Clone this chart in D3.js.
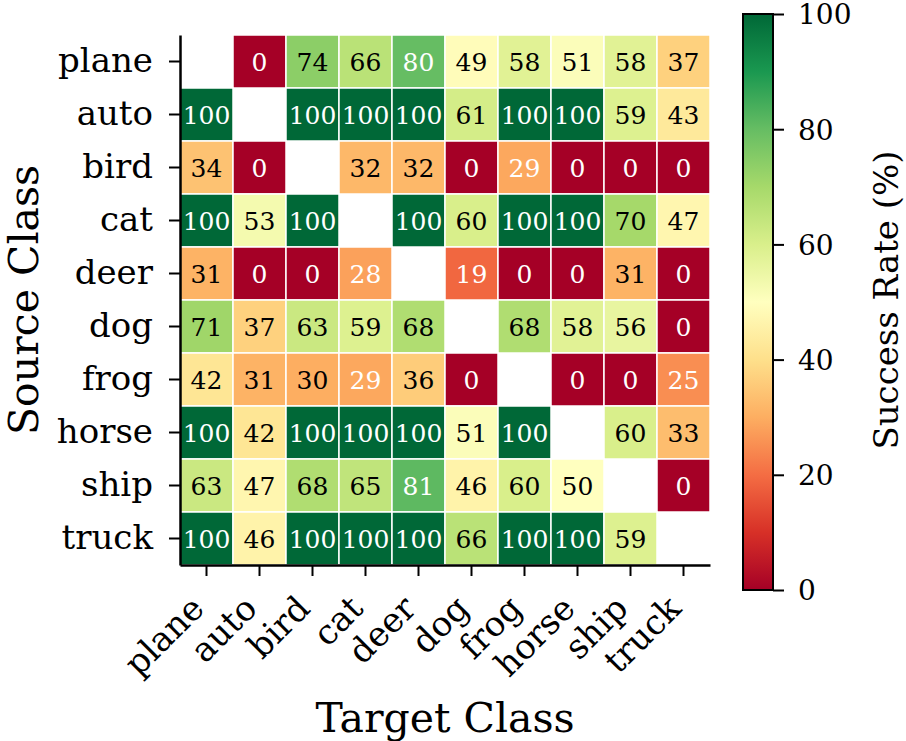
<!DOCTYPE html>
<html>
<head>
<meta charset="utf-8">
<script src="https://cdn.jsdelivr.net/npm/d3@7"></script>
<style>
  body { margin: 0; background: #fff; }
  text { font-family: "DejaVu Serif", serif; fill: #000; }
</style>
</head>
<body>
<script>
const classes = ["plane", "auto", "bird", "cat", "deer", "dog", "frog", "horse", "ship", "truck"];
// rows = source class, columns = target class, null = diagonal (no value)
const plane = [null, 0, 74, 66, 80, 49, 58, 51, 58, 37];
const auto  = [100, null, 100, 100, 100, 61, 100, 100, 59, 43];
const bird  = [34, 0, null, 32, 32, 0, 29, 0, 0, 0];
const cat   = [100, 53, 100, null, 100, 60, 100, 100, 70, 47];
const deer  = [31, 0, 0, 28, null, 19, 0, 0, 31, 0];
const dog   = [71, 37, 63, 59, 68, null, 68, 58, 56, 0];
const frog  = [42, 31, 30, 29, 36, 0, null, 0, 0, 25];
const horse = [100, 42, 100, 100, 100, 51, 100, null, 60, 33];
const ship  = [63, 47, 68, 65, 81, 46, 60, 50, null, 0];
const truck = [100, 46, 100, 100, 100, 66, 100, 100, 59, null];
const rows = [plane, auto, bird, cat, deer, dog, frog, horse, ship, truck];
const cbarTicks = [0, 20, 40, 60, 80, 100];

const width = 906, height = 741;
const marginLeft = 180, marginTop = 35, size = 530;
const cbar = { x: 743, y: 14, w: 30, h: 576 };

const svg = d3.select("body").append("svg")
    .attr("width", width)
    .attr("height", height);

// matplotlib RdYlGn = linear blend of the 11 ColorBrewer stops
const stops = d3.schemeRdYlGn[11];
const color = d3.scaleLinear()
    .domain(stops.map((d, i) => i * 10))
    .range(stops)
    .interpolate(d3.interpolateRgb);

const x = d3.scaleBand().domain(classes).range([marginLeft, marginLeft + size]);
const y = d3.scaleBand().domain(classes).range([marginTop, marginTop + size]);

const cells = [];
rows.forEach((r, i) => r.forEach((v, j) => {
    if (v !== null) cells.push({ src: classes[i], tgt: classes[j], v: v });
}));

const cell = svg.append("g").attr("class", "cells")
    .selectAll("g")
    .data(cells)
    .enter()
    .append("g");

cell.append("rect")
    .attr("x", d => x(d.tgt))
    .attr("y", d => y(d.src))
    .attr("width", x.bandwidth())
    .attr("height", y.bandwidth())
    .attr("fill", d => color(d.v))
    .attr("stroke", "#fff")
    .attr("stroke-width", 1.5);

cell.append("text")
    .attr("x", d => x(d.tgt) + x.bandwidth() / 2)
    .attr("y", d => y(d.src) + y.bandwidth() / 2)
    .attr("dy", "0.36em")
    .attr("text-anchor", "middle")
    .style("font-size", "25px")
    .style("fill", d => (d.v < 30 || d.v >= 80) ? "#fff" : "#000")
    .text(d => d.v);

/* ------- AXES -------*/
const xAxis = svg.append("g")
    .attr("transform", "translate(0," + (marginTop + size) + ")")
    .call(d3.axisBottom(x).tickSize(11).tickSizeOuter(0));
xAxis.selectAll("text")
    .style("font-size", "34px")
    .attr("text-anchor", "end")
    .attr("transform", "translate(-9,37) rotate(-45)")
    .attr("dy", "0.35em")
    .attr("y", 0)
    .attr("x", 0);

const yAxis = svg.append("g")
    .attr("transform", "translate(" + marginLeft + ",0)")
    .call(d3.axisLeft(y).tickSize(11).tickSizeOuter(0).tickPadding(16));
yAxis.selectAll("text").style("font-size", "34px").attr("dy", "0.3em");

svg.selectAll(".domain").attr("stroke", "#000").attr("stroke-width", 2.5);
svg.selectAll(".tick line").attr("stroke", "#000").attr("stroke-width", 2);

svg.append("text")
    .attr("x", marginLeft + size / 2)
    .attr("y", 732)
    .attr("text-anchor", "middle")
    .style("font-size", "41px")
    .text("Target Class");

svg.append("text")
    .attr("transform", "translate(38," + (marginTop + size / 2) + ") rotate(-90)")
    .attr("text-anchor", "middle")
    .style("font-size", "41px")
    .text("Source Class");

/* ------- COLORBAR -------*/
const grad = svg.append("defs").append("linearGradient")
    .attr("id", "cbar-grad")
    .attr("x1", 0).attr("y1", 1).attr("x2", 0).attr("y2", 0);
grad.selectAll("stop")
    .data(stops)
    .enter()
    .append("stop")
    .attr("offset", (d, i) => (i * 10) + "%")
    .attr("stop-color", d => d);

const cy = d3.scaleLinear().domain([0, 100]).range([cbar.y + cbar.h, cbar.y]);

svg.append("rect")
    .attr("x", cbar.x)
    .attr("y", cbar.y)
    .attr("width", cbar.w)
    .attr("height", cbar.h)
    .attr("fill", "url(#cbar-grad)")
    .attr("stroke", "#000")
    .attr("stroke-width", 2);

const cAxis = svg.append("g")
    .attr("transform", "translate(" + (cbar.x + cbar.w) + ",0)")
    .call(d3.axisRight(cy).tickValues(cbarTicks).tickSize(11).tickPadding(14));
cAxis.select(".domain").remove();
cAxis.selectAll(".tick line").attr("stroke", "#000").attr("stroke-width", 2);
cAxis.selectAll("text").style("font-size", "28px").attr("dy", "0.35em");

svg.append("text")
    .attr("transform", "translate(898," + (marginTop + size / 2) + ") rotate(-90)")
    .attr("text-anchor", "middle")
    .style("font-size", "34px")
    .text("Success Rate (%)");
</script>
</body>
</html>
